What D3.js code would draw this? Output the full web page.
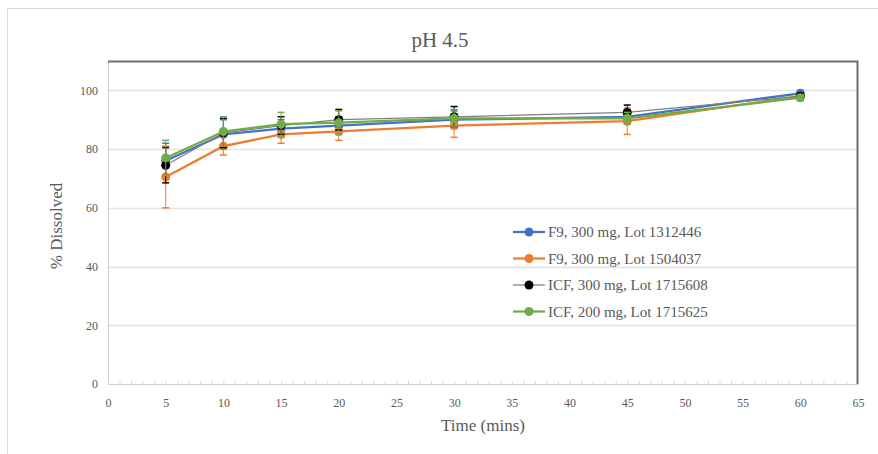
<!DOCTYPE html>
<html>
<head>
<meta charset="utf-8">
<script src="https://cdn.jsdelivr.net/npm/d3@7"></script>
<style>
  body { margin: 0; background: #fff; }
  svg { display: block; font-family: "Liberation Serif", "DejaVu Serif", serif; }
</style>
</head>
<body>
<svg id="chart" width="878" height="454"></svg>
<script>
var times = [5, 10, 15, 20, 30, 45, 60];
var xTicks = d3.range(0, 66, 5);
var yTicks = [0, 20, 40, 60, 80, 100];

var seriesNames = ["F9, 300 mg, Lot 1312446", "F9, 300 mg, Lot 1504037",
    "ICF, 300 mg, Lot 1715608", "ICF, 200 mg, Lot 1715625"];
var seriesColors = ["#4472c4", "#ed7d31", "#000000", "#70ad47"];
var lineColors = ["#4472c4", "#ed7d31", "#808080", "#70ad47"];
var lineWidths = [2.25, 2.25, 1.25, 2.25];

var blueVals = [76, 85, 87, 88, 90, 91, 99];
var blueErr = [6, 5, 3, 3, 3, 2, 1];
var orangeVals = [70.5, 81, 85, 86, 88, 89.5, 98];
var orangeErr = [10.5, 3, 3, 3, 4, 4.5, 1];
var blackVals = [74.5, 85.5, 88, 90, 91, 92.5, 98];
var blackErr = [6, 5, 3, 3.5, 3.5, 2.5, 1];
var greenVals = [77, 86, 88.5, 89, 90.5, 90.5, 97.5];
var greenErr = [6, 5, 4, 4, 3, 2, 1];

var allVals = [blueVals, orangeVals, blackVals, greenVals];
var allErr = [blueErr, orangeErr, blackErr, greenErr];

var svg = d3.select("#chart"),
    width = +svg.attr("width"),
    height = +svg.attr("height");

var plot = { left: 108, right: 858, top: 61, bottom: 384 };

var x = d3.scaleLinear().domain([0, 65]).range([plot.left, plot.right]);
var y = d3.scaleLinear().domain([0, 110]).range([plot.bottom, plot.top]);

// outer chart border
svg.append("rect")
    .attr("x", 7.5).attr("y", 8.5)
    .attr("width", width).attr("height", height)
    .attr("fill", "none").attr("stroke", "#d9d9d9");

// title
svg.append("text")
    .attr("x", 440).attr("y", 47)
    .attr("text-anchor", "middle")
    .attr("font-size", 21).attr("fill", "#595959")
    .text("pH 4.5");

// gridlines
svg.append("g").selectAll("line")
    .data(yTicks.filter(function (d) { return d > 0; }))
    .join("line")
    .attr("x1", plot.left).attr("x2", plot.right)
    .attr("y1", function (d) { return Math.round(y(d)) + 0.5; })
    .attr("y2", function (d) { return Math.round(y(d)) + 0.5; })
    .attr("stroke", "#e3e3e3").attr("stroke-width", 1.5);

// frame: left light, top and right dark
svg.append("line")
    .attr("x1", plot.left + 0.5).attr("x2", plot.left + 0.5)
    .attr("y1", plot.top).attr("y2", plot.bottom)
    .attr("stroke", "#c8c8c8");
svg.append("path")
    .attr("d", "M" + plot.left + "," + (plot.top + 0.5) + "H" + (plot.right - 0.5) + "V" + plot.bottom)
    .attr("fill", "none").attr("stroke", "#6e6e6e").attr("stroke-width", 2);

// x axis with minor ticks
var xAxis = d3.axisBottom(x).tickValues(xTicks).tickSize(0).tickPadding(14);
var gx = svg.append("g")
    .attr("transform", "translate(0," + plot.bottom + ")")
    .call(xAxis);
gx.select(".domain").attr("stroke", "#d0d0d0");
gx.selectAll("text").attr("font-size", 12).attr("fill", "#595959")
    .attr("font-family", "Liberation Serif");
svg.append("g").selectAll("line")
    .data(d3.range(0, 65))
    .join("line")
    .attr("x1", function (d) { return x(d) + 0.5; })
    .attr("x2", function (d) { return x(d) + 0.5; })
    .attr("y1", plot.bottom - 3).attr("y2", plot.bottom)
    .attr("stroke", "#d8d8d8");

// y axis labels
var yAxis = d3.axisLeft(y).tickValues(yTicks).tickSize(0).tickPadding(10);
var gy = svg.append("g")
    .attr("transform", "translate(" + plot.left + ",0)")
    .call(yAxis);
gy.select(".domain").remove();
gy.selectAll("text").attr("font-size", 12).attr("fill", "#595959")
    .attr("font-family", "Liberation Serif");

// axis titles
svg.append("text")
    .attr("x", 483).attr("y", 431)
    .attr("text-anchor", "middle")
    .attr("font-size", 17).attr("fill", "#595959")
    .text("Time (mins)");
svg.append("text")
    .attr("transform", "translate(62,226) rotate(-90)")
    .attr("text-anchor", "middle")
    .attr("font-size", 17).attr("fill", "#595959")
    .text("% Dissolved");

// series
var line = d3.line()
    .x(function (d, i) { return x(times[i]); })
    .y(function (d) { return y(d); });

allVals.forEach(function (vals, s) {
    var g = svg.append("g");
    var col = seriesColors[s];
    var err = allErr[s];

    g.append("path")
        .attr("d", line(vals))
        .attr("fill", "none")
        .attr("stroke", lineColors[s])
        .attr("stroke-width", lineWidths[s]);

    var bars = g.selectAll(".err")
        .data(vals)
        .join("g");
    bars.append("line")
        .attr("x1", function (d, i) { return x(times[i]); })
        .attr("x2", function (d, i) { return x(times[i]); })
        .attr("y1", function (d, i) { return y(d - err[i]); })
        .attr("y2", function (d, i) { return y(d + err[i]); })
        .attr("stroke", col).attr("stroke-width", 1);
    [-1, 1].forEach(function (sign) {
        bars.append("line")
            .attr("x1", function (d, i) { return x(times[i]) - 3.5; })
            .attr("x2", function (d, i) { return x(times[i]) + 3.5; })
            .attr("y1", function (d, i) { return y(d + sign * err[i]); })
            .attr("y2", function (d, i) { return y(d + sign * err[i]); })
            .attr("stroke", col).attr("stroke-width", 1.5);
    });

    g.selectAll("circle")
        .data(vals)
        .join("circle")
        .attr("cx", function (d, i) { return x(times[i]); })
        .attr("cy", function (d) { return y(d); })
        .attr("r", 4.5)
        .attr("fill", col);
});

// legend
var legend = svg.append("g").attr("transform", "translate(513,232)");
var item = legend.selectAll("g")
    .data(seriesNames)
    .join("g")
    .attr("transform", function (d, i) { return "translate(0," + (i * 26.5) + ")"; });
item.append("line")
    .attr("x1", 0).attr("x2", 32)
    .attr("stroke", function (d, i) { return lineColors[i]; })
    .attr("stroke-width", function (d, i) { return lineWidths[i]; });
item.append("circle")
    .attr("cx", 16).attr("r", 4.5)
    .attr("fill", function (d, i) { return seriesColors[i]; });
item.append("text")
    .attr("x", 35).attr("dy", "0.35em")
    .attr("font-size", 15).attr("fill", "#595959")
    .text(function (d) { return d; });
</script>
</body>
</html>
